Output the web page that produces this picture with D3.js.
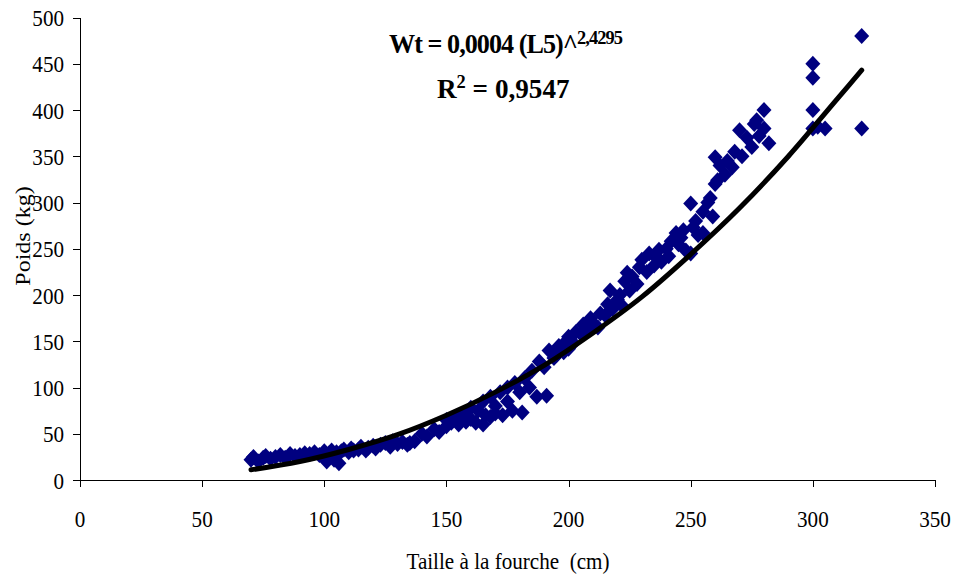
<!DOCTYPE html>
<html>
<head>
<meta charset="utf-8">
<script src="https://cdn.jsdelivr.net/npm/d3@7"></script>
<style>
    html, body { margin: 0; padding: 0; background: #fff; }
    svg { display: block; }
    text { font-family: "Liberation Serif", "Times New Roman", serif; fill: #000; white-space: pre; }
</style>
</head>
<body>
<div class="svg-container"></div>
<script>
const lengths = [
    70, 71, 73, 75, 76, 78, 80, 82, 84, 86, 88, 90, 92, 94, 96, 98, 100, 100, 101, 102,
    103, 104, 105, 106, 107, 108, 110, 111, 112, 114, 115, 117, 118, 120, 121, 123, 125, 127, 128, 130,
    132, 134, 135,
    137, 140, 142, 145, 147, 150, 150, 152, 154, 155, 157, 158, 160, 160, 162, 163, 165, 165, 166, 168,
    168, 170, 170, 172, 173, 175, 175, 177,
    178, 180, 181, 182, 184, 185, 187, 188, 190, 191, 192, 194, 195, 196, 198, 199, 200, 200,
    202, 203, 205, 206, 208, 209, 210, 212, 213, 215, 216, 217, 218, 220, 221, 222, 223, 224, 225, 226,
    228, 229, 230,
    232, 233, 235, 236, 237, 238, 240, 241, 242, 244, 245, 246, 247, 248, 250, 250, 251, 252, 253, 255,
    255, 257, 258, 259, 260, 260,
    261, 262, 264, 265, 267, 268, 270, 271, 273, 275, 276, 277, 278, 280, 280, 282,
    300, 300, 300, 300, 302, 305, 320, 320
];
const weights = [
    22, 25, 20, 24, 26, 23, 25, 27, 24, 28, 26, 27, 29, 28, 30, 27, 31, 24, 20, 29,
    32, 22, 30, 18, 31, 33, 30, 34, 32, 33, 36, 32, 35, 37, 34, 38, 40, 36, 42, 39,
    41, 38, 40,
    42, 50, 47, 55, 52, 58, 65, 62, 68, 60, 72, 63, 66, 78, 62, 75, 60, 85, 70, 68,
    90, 72, 80, 95, 70, 85, 100, 75,
    105, 95, 73, 110, 100, 118, 90, 128, 122, 91, 140, 132, 135, 145, 138, 150, 142, 155,
    148, 160, 158, 168, 162, 175, 170, 165, 180, 178, 190, 205, 185, 195, 200, 188, 215, 224, 205, 220,
    212, 230, 238,
    225, 245, 232, 240, 249, 236, 250, 242, 258, 267, 255, 262, 270, 248, 245, 299, 273, 280, 265, 267,
    290, 300, 305, 285, 320, 349,
    324, 340, 330, 345, 338, 355, 378, 350, 370, 360, 385, 389, 372, 400, 380, 364,
    450, 435, 400, 380, 382, 380, 480, 380
];

// Power trend line
const trendLengths = [70, 90, 110, 130, 150, 170, 190, 210, 230, 250, 270, 290, 310, 320];
const trendWeights = [11, 20, 33, 49, 70, 95, 124, 159, 198, 244, 294, 350, 412, 443];

// Axis ticks
const xTicks = [0, 50, 100, 150, 200, 250, 300, 350];
const yTicks = [0, 50, 100, 150, 200, 250, 300, 350, 400, 450, 500];

const equationText = 'Wt = 0,0004 (L5)^';
const equationExp = '2,4295';
const r2Value = '0,9547';

/**
 * Chart Manager
 *      draws the scatter + trend line
 */
const chartManager = (() => {
    const SCREEN = { WIDTH: 958, HEIGHT: 581 };
    const PLOT = { LEFT: 80, RIGHT: 935, TOP: 17.5, BOTTOM: 480 };
    // the original picture is squeezed horizontally
    const SQUEEZE = 0.88;

    const x = d3.scaleLinear().domain([0, 350]).range([PLOT.LEFT, PLOT.RIGHT]);
    const y = d3.scaleLinear().domain([0, 500]).range([PLOT.BOTTOM, PLOT.TOP]);

    const initSVG = () => {
        return d3.select('.svg-container').append('svg')
                 .attr('width', SCREEN.WIDTH)
                 .attr('height', SCREEN.HEIGHT);
    };

    /**
     * Squeezed text helper
     */
    const addText = (g, str, px, py, opts = {}) => {
        const sx = opts.squeeze !== undefined ? opts.squeeze : SQUEEZE;
        return g.append('text')
                .attr('transform', `translate(${px},${py}) scale(${sx},1)${opts.rotate ? ` rotate(${opts.rotate})` : ''}`)
                .attr('text-anchor', opts.anchor || 'start')
                .style('font-size', `${opts.size || 24}px`)
                .style('font-weight', opts.bold ? 'bold' : 'normal')
                .style('letter-spacing', opts.spacing ? `${opts.spacing}px` : null)
                .text(str);
    };

    const drawAxes = (svg) => {
        let xAxis = svg.append('g')
                       .attr('transform', `translate(0,${PLOT.BOTTOM})`)
                       .call(d3.axisBottom(x).tickValues(xTicks).tickSize(7).tickFormat(''));
        let yAxis = svg.append('g')
                       .attr('transform', `translate(${PLOT.LEFT},0)`)
                       .call(d3.axisLeft(y).tickValues(yTicks).tickSize(7).tickFormat(''));

        [xAxis, yAxis].forEach(a => {
            a.select('.domain').attr('stroke', '#000').attr('shape-rendering', 'crispEdges');
            a.selectAll('.tick line').attr('stroke', '#000').attr('shape-rendering', 'crispEdges');
        });
        // the x axis line runs from the y tick on the left
        svg.append('line')
           .attr('x1', PLOT.LEFT - 7).attr('x2', PLOT.LEFT)
           .attr('y1', PLOT.BOTTOM + 0.5).attr('y2', PLOT.BOTTOM + 0.5)
           .attr('stroke', '#000');

        let labels = svg.append('g');
        xTicks.forEach(t => addText(labels, t, x(t), 527, { anchor: 'middle' }));
        yTicks.forEach(t => addText(labels, t, PLOT.LEFT - 16, y(t) + 8.5, { anchor: 'end' }));

        addText(labels, 'Taille à la fourche  (cm)', 508, 569, { anchor: 'middle', size: 24 });
        addText(labels, 'Poids (kg)', 30, 236, { anchor: 'middle', size: 24, rotate: -90 });
    };

    const drawPoints = (svg) => {
        const pts = lengths.map((l, i) => ({ l: l, w: weights[i] }));
        const diamond = 'M0,-8L7.5,0L0,8L-7.5,0Z';
        svg.append('g')
           .selectAll('path')
           .data(pts)
           .enter()
           .append('path')
           .attr('transform', d => `translate(${x(d.l)},${y(d.w)})`)
           .attr('d', diamond)
           .attr('fill', '#000080');
    };

    const drawTrend = (svg) => {
        const pts = trendLengths.map((l, i) => ({ l: l, w: trendWeights[i] }));
        const line = d3.line()
                       .x(d => x(d.l))
                       .y(d => y(d.w))
                       .curve(d3.curveMonotoneX);
        svg.append('path')
           .attr('d', line(pts))
           .attr('fill', 'none')
           .attr('stroke', '#000')
           .attr('stroke-width', 5)
           .attr('stroke-linecap', 'round');
    };

    const drawEquation = (svg) => {
        let eq = addText(svg, equationText, 389, 53, { bold: true, size: 27, squeeze: 0.97, spacing: -1 });
        eq.append('tspan')
          .attr('dy', -9)
          .style('font-size', '19px')
          .text(equationExp);

        let r2 = addText(svg, 'R', 437, 98, { bold: true, size: 28, squeeze: 0.97 });
        r2.append('tspan').attr('dy', -10).style('font-size', '19px').text('2');
        r2.append('tspan').attr('dy', 10).text(` = ${r2Value}`);
    };

    const init = () => {
        let svg = initSVG();
        drawAxes(svg);
        drawPoints(svg);
        drawTrend(svg);
        drawEquation(svg);
    };

    return { init: init };
})();

chartManager.init();
</script>
</body>
</html>
